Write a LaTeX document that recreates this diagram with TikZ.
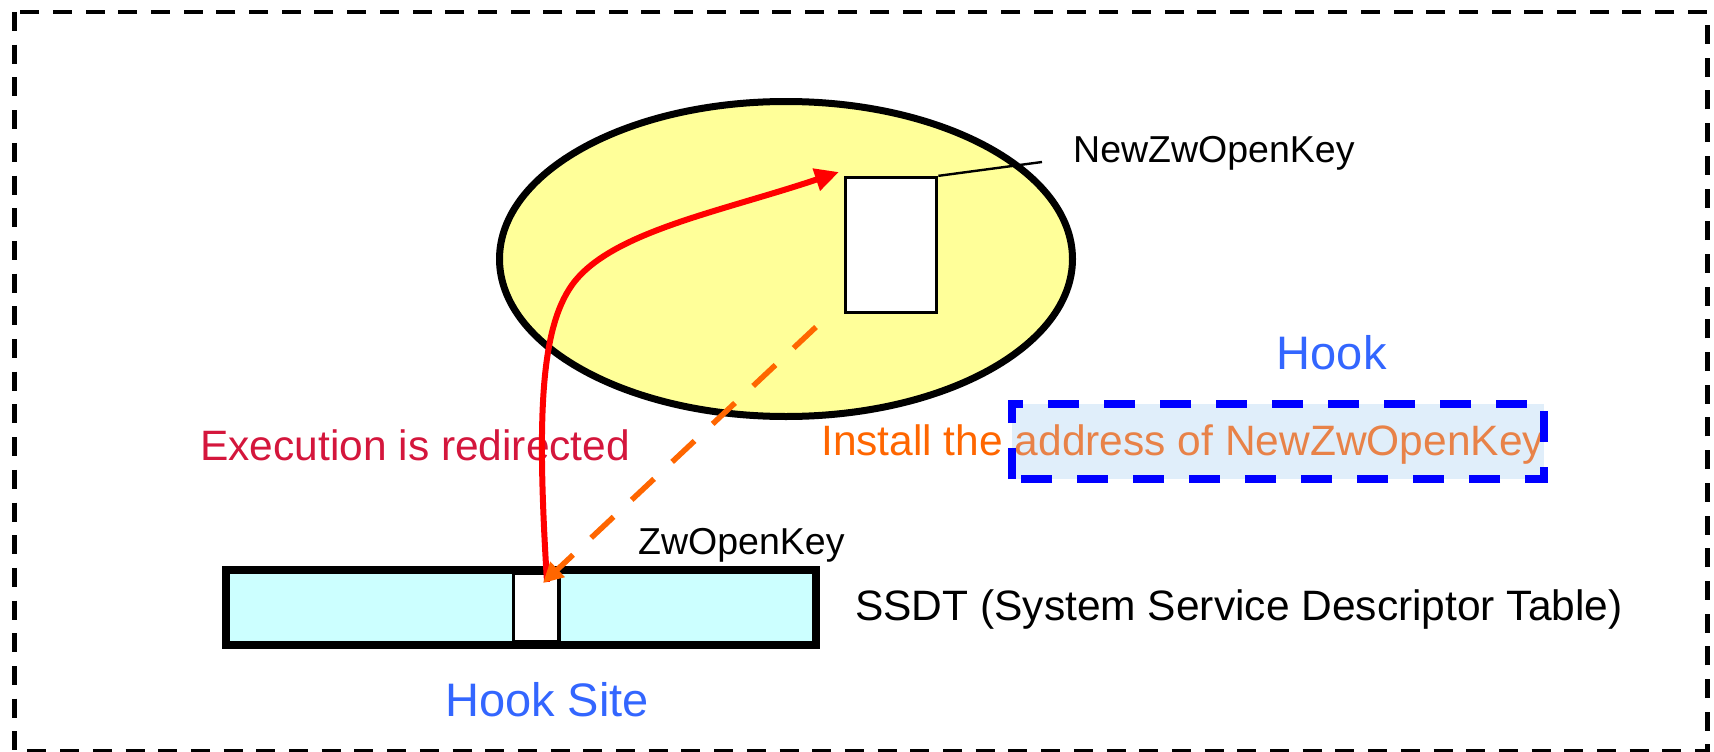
\documentclass[tikz,border=0pt]{standalone}
\usepackage{fontspec}
\setmainfont{Liberation Sans}
\usetikzlibrary{arrows.meta,shapes.geometric}
\definecolor{procyellow}{RGB}{255,255,153}
\definecolor{ssdtcyan}{RGB}{204,255,255}
\definecolor{hookfill}{RGB}{224,238,250}
\definecolor{arrowred}{RGB}{255,0,0}
\definecolor{arroworange}{RGB}{255,102,0}
\definecolor{palorange}{RGB}{232,130,72}
\definecolor{crimsontext}{RGB}{212,22,60}
\definecolor{hookblue}{RGB}{51,102,255}
\begin{document}
\begin{tikzpicture}[x=1pt,y=-1pt,
  lbl/.style={anchor=base west, inner sep=0pt, font=\fontsize{37.5}{45}\selectfont},
  bigtext/.style={anchor=base west, inner sep=0pt, font=\fontsize{42.5}{50}\selectfont},
  hugetext/.style={anchor=base west, inner sep=0pt, font=\fontsize{47}{56}\selectfont, text=hookblue},
  plainbox/.style={draw, inner sep=0pt},
]
\useasboundingbox (0,0) rectangle (1714,752);
% outer frame
\draw[line width=4.5pt, dash pattern=on 19pt off 13.7pt] (14.3,12) rectangle (1707.5,751);

% process ellipse with NewZwOpenKey
\node[ellipse, plainbox, line width=7pt, fill=procyellow, minimum width=573pt, minimum height=315pt] (proc) at (786,259) {};
\node[plainbox, line width=3.3pt, fill=white, minimum width=91pt, minimum height=134.8pt] (newkey) at (891.2,244.9) {};
\coordinate (leaderend) at (1042,162);
\draw[line width=2.4pt] (newkey.north east) -- (leaderend);
\node[lbl] (newkeylbl) at (1073,162.3) {NewZwOpenKey};

% SSDT
\node[plainbox, line width=8pt, fill=ssdtcyan, minimum width=590pt, minimum height=75.6pt] (ssdt) at (521,607.5) {};
\node[plainbox, line width=3.5pt, fill=white, minimum width=45.5pt, minimum height=69pt] (slot) at (536,607.5) {};
\node[lbl] (zwlbl) at (638,554) {ZwOpenKey};
\node[bigtext] (ssdtlbl) at (855,620) {SSDT (System Service Descriptor Table)};
\node[hugetext] (sitelbl) at (445,716) {Hook Site};
\node[hugetext] (hooklbl) at (1276.7,369.3) {Hook};

% hook box
\node[fill=hookfill, inner sep=0pt, minimum width=532pt, minimum height=75.3pt] (hookbox) at (1278,441.35) {};
\node[bigtext, text=arroworange] (installlbl) at (821,455) {Install the \textcolor{palorange}{address of NewZwOpenKey}};
\draw[blue, line width=8pt, dash pattern=on 31pt off 25pt] (hookbox.south west) rectangle (hookbox.north east);

\node[bigtext, text=crimsontext] (execlbl) at (200,460) {Execution is redirected};

% red redirect arrow
\coordinate (redstart) at (547,582);
\coordinate (redbend) at (572,285);
\coordinate (redend) at (839,172);
\draw[arrowred, line width=6pt, -{Triangle[length=24pt,width=22pt]}]
  (redstart) .. controls (537,420) and (540,330) .. (redbend)
  .. controls (610,232) and (720,212) .. (redend);

% orange install arrow
\coordinate (orstart) at (816,327);
\coordinate (orend) at (543,583);
\draw[arroworange, line width=5.5pt, dash pattern=on 30.7pt off 24.8pt, -{Triangle[length=20pt,width=20pt]}] (orstart) -- (orend);
\end{tikzpicture}
\end{document}
